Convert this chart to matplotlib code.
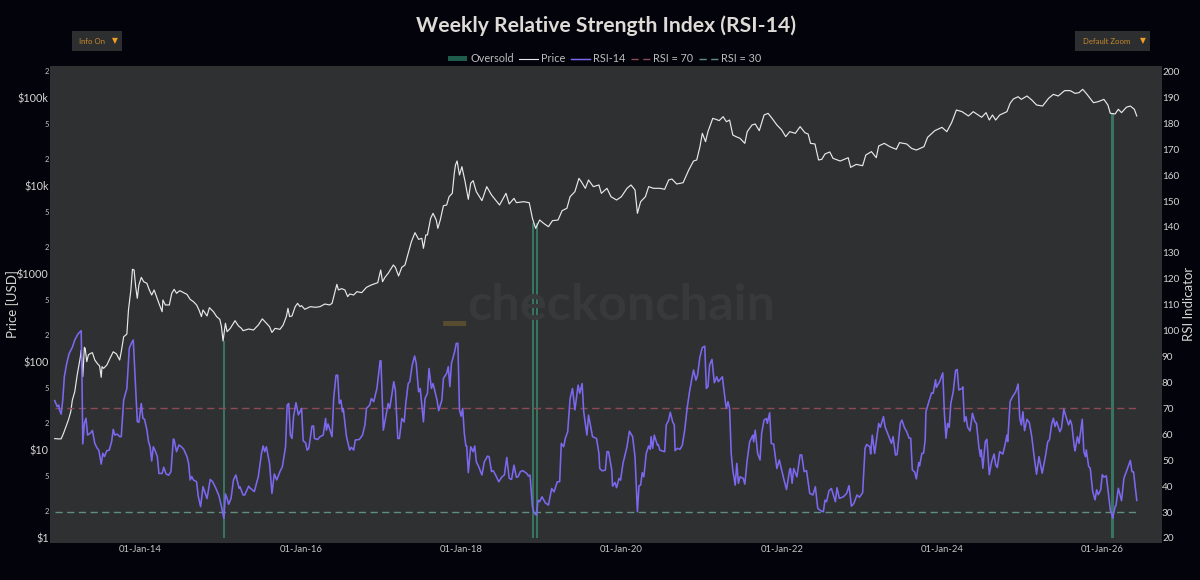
import matplotlib
matplotlib.use("Agg")
import matplotlib.pyplot as plt
from matplotlib.lines import Line2D
from matplotlib.patches import FancyBboxPatch, Patch

plt.rcParams['font.family'] = ['Lato', 'DejaVu Sans']

# weekly RSI-14
rsi_years = [
    2012.93, 2012.96, 2012.98, 2012.99, 2013.01, 2013.03, 2013.05, 2013.08, 2013.11, 2013.15, 2013.18, 2013.22, 2013.26, 2013.27,
    2013.28, 2013.30, 2013.32, 2013.34, 2013.38, 2013.40, 2013.43, 2013.46, 2013.48, 2013.51, 2013.53, 2013.55, 2013.58, 2013.61,
    2013.64, 2013.66, 2013.68, 2013.71, 2013.74, 2013.76, 2013.79, 2013.83, 2013.86, 2013.89, 2013.91, 2013.93, 2013.96, 2013.98,
    2014.01, 2014.03, 2014.05, 2014.08, 2014.10, 2014.12, 2014.14, 2014.16, 2014.18, 2014.21, 2014.23, 2014.27, 2014.29, 2014.32,
    2014.35, 2014.38, 2014.41, 2014.42, 2014.45, 2014.48, 2014.51, 2014.54, 2014.58, 2014.60, 2014.62, 2014.64, 2014.66, 2014.70,
    2014.72, 2014.75, 2014.78, 2014.80, 2014.83, 2014.87, 2014.90, 2014.94, 2014.98, 2015.01, 2015.04, 2015.06, 2015.08, 2015.10,
    2015.13, 2015.16, 2015.19, 2015.23, 2015.24, 2015.28, 2015.30, 2015.35, 2015.37, 2015.42, 2015.47, 2015.51, 2015.53, 2015.55,
    2015.57, 2015.61, 2015.64, 2015.67, 2015.70, 2015.74, 2015.77, 2015.81, 2015.83, 2015.85, 2015.87, 2015.89, 2015.91, 2015.94,
    2015.97, 2015.99, 2016.01, 2016.03, 2016.06, 2016.08, 2016.10, 2016.14, 2016.16, 2016.17, 2016.21, 2016.24, 2016.28, 2016.31,
    2016.32, 2016.34, 2016.39, 2016.41, 2016.44, 2016.46, 2016.48, 2016.50, 2016.52, 2016.53, 2016.57, 2016.61, 2016.63, 2016.66,
    2016.68, 2016.73, 2016.77, 2016.80, 2016.82, 2016.86, 2016.88, 2016.91, 2016.95, 2016.99, 2017.00, 2017.03, 2017.06, 2017.09,
    2017.11, 2017.16, 2017.18, 2017.21, 2017.23, 2017.26, 2017.29, 2017.31, 2017.34, 2017.36, 2017.39, 2017.42, 2017.44, 2017.47,
    2017.49, 2017.53, 2017.55, 2017.58, 2017.60, 2017.63, 2017.65, 2017.70, 2017.72, 2017.76, 2017.78, 2017.82, 2017.84, 2017.86,
    2017.88, 2017.92, 2017.94, 2017.96, 2017.98, 2018.00, 2018.02, 2018.04, 2018.06, 2018.07, 2018.09, 2018.12, 2018.15, 2018.17,
    2018.19, 2018.22, 2018.26, 2018.29, 2018.33, 2018.35, 2018.38, 2018.40, 2018.43, 2018.47, 2018.51, 2018.54, 2018.57, 2018.60,
    2018.63, 2018.66, 2018.69, 2018.71, 2018.74, 2018.77, 2018.82, 2018.84, 2018.86, 2018.89, 2018.91, 2018.94, 2018.96, 2018.98,
    2019.01, 2019.05, 2019.09, 2019.13, 2019.16, 2019.20, 2019.23, 2019.25, 2019.28, 2019.30, 2019.33, 2019.36, 2019.39, 2019.42,
    2019.46, 2019.48, 2019.51, 2019.53, 2019.57, 2019.59, 2019.64, 2019.69, 2019.72, 2019.73, 2019.76, 2019.80, 2019.82, 2019.84,
    2019.88, 2019.89, 2019.92, 2019.94, 2019.97, 2019.99, 2020.02, 2020.07, 2020.10, 2020.14, 2020.17, 2020.20, 2020.22, 2020.24,
    2020.26, 2020.28, 2020.31, 2020.34, 2020.36, 2020.37, 2020.39, 2020.41, 2020.45, 2020.46, 2020.48, 2020.54, 2020.56, 2020.59,
    2020.61, 2020.64, 2020.66, 2020.67, 2020.70, 2020.73, 2020.76, 2020.79, 2020.82, 2020.85, 2020.88, 2020.90, 2020.93, 2020.95,
    2020.98, 2021.01, 2021.04, 2021.06, 2021.08, 2021.10, 2021.13, 2021.16, 2021.19, 2021.21, 2021.26, 2021.30, 2021.31, 2021.33,
    2021.35, 2021.37, 2021.39, 2021.42, 2021.44, 2021.46, 2021.48, 2021.52, 2021.54, 2021.57, 2021.60, 2021.64, 2021.65, 2021.67,
    2021.70, 2021.73, 2021.75, 2021.78, 2021.81, 2021.82, 2021.85, 2021.87, 2021.90, 2021.94, 2021.97, 2022.00, 2022.03, 2022.06,
    2022.10, 2022.11, 2022.13, 2022.15, 2022.19, 2022.23, 2022.25, 2022.28, 2022.31, 2022.35, 2022.39, 2022.42, 2022.45, 2022.49,
    2022.52, 2022.54, 2022.56, 2022.59, 2022.62, 2022.67, 2022.69, 2022.72, 2022.77, 2022.81, 2022.84, 2022.87, 2022.90, 2022.94,
    2022.97, 2023.01, 2023.04, 2023.06, 2023.10, 2023.11, 2023.13, 2023.16, 2023.21, 2023.23, 2023.27, 2023.29, 2023.33, 2023.37,
    2023.39, 2023.42, 2023.44, 2023.48, 2023.50, 2023.53, 2023.56, 2023.59, 2023.61, 2023.63, 2023.66, 2023.68, 2023.71, 2023.72,
    2023.75, 2023.77, 2023.79, 2023.80, 2023.83, 2023.87, 2023.89, 2023.92, 2023.93, 2023.97, 2024.01, 2024.03, 2024.05, 2024.07,
    2024.09, 2024.11, 2024.14, 2024.17, 2024.19, 2024.21, 2024.25, 2024.26, 2024.28, 2024.30, 2024.32, 2024.35, 2024.38, 2024.41,
    2024.43, 2024.46, 2024.48, 2024.49, 2024.51, 2024.54, 2024.56, 2024.59, 2024.62, 2024.65, 2024.67, 2024.69, 2024.72, 2024.76,
    2024.79, 2024.81, 2024.82, 2024.85, 2024.88, 2024.92, 2024.95, 2024.97, 2024.99, 2025.01, 2025.03, 2025.06, 2025.09, 2025.12,
    2025.15, 2025.18, 2025.21, 2025.25, 2025.29, 2025.32, 2025.34, 2025.37, 2025.39, 2025.41, 2025.43, 2025.47, 2025.49, 2025.52,
    2025.55, 2025.58, 2025.60, 2025.62, 2025.65, 2025.66, 2025.69, 2025.71, 2025.75, 2025.77, 2025.79, 2025.80, 2025.83, 2025.85,
    2025.88, 2025.91, 2025.93, 2025.95, 2025.98, 2026.00, 2026.02, 2026.05, 2026.08, 2026.10, 2026.12, 2026.13, 2026.16, 2026.17,
    2026.20, 2026.21, 2026.24, 2026.27, 2026.30, 2026.35, 2026.37, 2026.39, 2026.41, 2026.43,
]
rsi_values = [
    73.0, 70.7, 71.3, 69.4, 67.8, 73.2, 82.2, 87.4, 91.2, 93.6, 96.4, 98.7, 100.0, 82.2,
    56.3, 64.3, 66.2, 59.7, 60.6, 61.5, 56.5, 54.6, 53.9, 48.5, 52.7, 51.4, 53.7, 53.9,
    57.2, 61.9, 59.7, 60.1, 59.1, 59.1, 73.2, 77.7, 93.2, 95.4, 96.4, 83.5, 64.9, 64.6,
    71.9, 66.2, 65.8, 61.7, 57.2, 55.2, 49.7, 55.2, 53.9, 51.4, 44.9, 44.9, 47.3, 44.7,
    44.2, 45.6, 58.2, 57.8, 53.3, 55.9, 55.2, 54.2, 51.4, 48.8, 42.4, 43.7, 42.4, 41.7,
    36.2, 32.1, 39.8, 37.9, 35.2, 42.6, 41.7, 39.2, 36.2, 32.1, 27.6, 37.0, 35.3, 33.0,
    35.3, 42.4, 44.3, 39.2, 39.8, 36.6, 36.6, 40.0, 39.2, 37.9, 43.7, 52.7, 55.5, 53.3,
    55.2, 48.8, 37.2, 44.7, 42.4, 45.6, 47.5, 55.2, 71.3, 71.9, 59.7, 58.4, 66.8, 72.2,
    67.5, 68.7, 70.0, 57.5, 56.7, 53.9, 54.6, 63.2, 63.2, 58.4, 58.0, 59.1, 59.7, 66.1,
    61.6, 64.0, 59.1, 73.8, 82.8, 82.8, 71.9, 73.2, 68.7, 70.0, 59.1, 53.9, 55.0, 53.9,
    57.8, 58.0, 59.7, 63.6, 70.0, 71.3, 73.8, 72.6, 77.7, 88.4, 88.4, 61.6, 66.8, 71.9,
    70.0, 80.3, 77.1, 58.4, 58.4, 66.1, 64.8, 71.9, 79.6, 80.3, 86.7, 90.2, 87.4, 76.4,
    77.7, 64.8, 73.8, 75.8, 85.4, 77.7, 79.6, 73.2, 69.1, 73.2, 81.6, 83.5, 86.1, 78.4,
    87.4, 91.9, 95.1, 95.1, 69.4, 67.0, 70.0, 60.4, 55.5, 55.5, 45.2, 55.2, 53.3, 55.5,
    49.4, 47.5, 44.3, 49.4, 51.6, 51.3, 45.6, 46.0, 44.3, 41.7, 43.6, 44.3, 51.1, 43.0,
    42.6, 48.1, 43.4, 43.6, 45.6, 46.0, 44.9, 43.9, 44.3, 32.1, 29.7, 28.8, 34.6, 34.0,
    35.9, 33.6, 32.7, 39.1, 37.8, 41.7, 41.7, 56.5, 55.2, 58.4, 61.0, 73.8, 77.7, 69.4,
    79.0, 75.8, 79.6, 68.7, 59.7, 67.4, 59.1, 58.4, 52.6, 46.8, 45.9, 46.2, 53.3, 53.3,
    46.2, 40.0, 41.4, 39.4, 43.0, 42.3, 48.8, 55.2, 61.2, 59.1, 51.3, 30.1, 40.2, 40.4,
    45.2, 43.6, 52.6, 55.5, 54.2, 59.1, 54.6, 59.7, 55.8, 56.1, 53.9, 53.3, 63.6, 65.5,
    68.5, 64.8, 63.6, 53.7, 54.6, 54.2, 55.8, 61.6, 70.0, 76.4, 81.6, 84.8, 80.9, 82.8,
    89.9, 93.5, 94.0, 77.7, 78.4, 86.7, 88.9, 79.9, 82.2, 80.3, 82.2, 71.9, 70.0, 72.6,
    70.0, 52.6, 46.2, 40.4, 48.8, 41.1, 43.6, 43.0, 40.8, 50.1, 57.1, 59.7, 57.1, 61.6,
    52.6, 50.1, 60.4, 65.5, 66.1, 64.2, 68.3, 56.5, 56.2, 46.8, 50.1, 46.2, 42.3, 38.7,
    46.5, 46.8, 41.1, 46.8, 43.6, 52.1, 52.0, 45.6, 46.0, 37.2, 36.6, 39.8, 31.4, 30.5,
    30.1, 34.6, 34.0, 38.2, 39.1, 34.0, 39.4, 35.3, 35.9, 37.2, 40.2, 32.3, 33.3, 36.6,
    35.7, 37.5, 54.6, 56.1, 55.2, 52.4, 59.7, 52.6, 64.2, 62.7, 66.8, 62.9, 59.7, 56.5,
    59.1, 52.0, 52.2, 64.2, 65.5, 62.7, 61.0, 58.5, 58.5, 46.3, 45.4, 42.8, 49.1, 47.8,
    52.7, 52.7, 57.8, 68.7, 71.9, 76.0, 75.8, 81.1, 78.1, 80.3, 83.7, 68.1, 58.5, 64.2,
    62.7, 71.9, 76.4, 84.7, 85.0, 77.1, 77.7, 78.3, 64.9, 66.8, 62.7, 61.3, 68.1, 64.9,
    64.2, 55.2, 51.4, 54.0, 46.9, 57.2, 58.1, 44.4, 49.5, 52.4, 48.2, 47.2, 53.3, 52.4,
    56.5, 59.7, 57.2, 72.6, 74.5, 76.4, 79.4, 66.2, 63.6, 68.7, 61.4, 65.8, 64.5, 59.1,
    51.4, 44.6, 51.4, 45.0, 51.4, 57.2, 57.8, 64.2, 66.2, 63.0, 64.9, 61.0, 62.3, 69.7,
    66.5, 63.6, 65.5, 63.6, 55.3, 53.6, 59.1, 56.5, 65.8, 53.3, 51.4, 54.0, 47.6, 46.9,
    38.0, 34.7, 38.6, 36.7, 38.6, 44.4, 43.5, 44.0, 36.0, 30.9, 29.0, 27.7, 32.2, 32.4,
    39.2, 38.0, 34.4, 43.1, 45.6, 49.9, 45.6, 45.5, 39.9, 34.5,
]

# price in USD
price_years = [
    2012.93, 2012.97, 2013.01, 2013.04, 2013.07, 2013.10, 2013.13, 2013.15, 2013.18, 2013.21, 2013.25, 2013.26, 2013.28, 2013.30,
    2013.31, 2013.33, 2013.35, 2013.38, 2013.40, 2013.43, 2013.46, 2013.49, 2013.51, 2013.52, 2013.54, 2013.58, 2013.62, 2013.66,
    2013.70, 2013.74, 2013.76, 2013.79, 2013.83, 2013.85, 2013.88, 2013.90, 2013.92, 2013.94, 2013.96, 2013.98, 2014.01, 2014.04,
    2014.08, 2014.11, 2014.14, 2014.17, 2014.20, 2014.23, 2014.27, 2014.28, 2014.31, 2014.36, 2014.39, 2014.42, 2014.45, 2014.49,
    2014.53, 2014.58, 2014.62, 2014.66, 2014.70, 2014.73, 2014.76, 2014.78, 2014.83, 2014.86, 2014.91, 2014.95, 2014.99, 2015.01,
    2015.03, 2015.06, 2015.08, 2015.12, 2015.18, 2015.22, 2015.26, 2015.28, 2015.35, 2015.41, 2015.47, 2015.52, 2015.57, 2015.61,
    2015.64, 2015.68, 2015.74, 2015.78, 2015.82, 2015.84, 2015.86, 2015.89, 2015.93, 2015.96, 2015.99,
    2016.01, 2016.05, 2016.12, 2016.18, 2016.24, 2016.30, 2016.36, 2016.39, 2016.42, 2016.45, 2016.47, 2016.51, 2016.55, 2016.585,
    2016.61, 2016.66, 2016.70, 2016.76, 2016.82, 2016.88, 2016.96, 2016.997, 2017.02, 2017.05, 2017.09, 2017.155, 2017.18, 2017.22,
    2017.26, 2017.30, 2017.34, 2017.38, 2017.425, 2017.47, 2017.51, 2017.53, 2017.56, 2017.58, 2017.62, 2017.65, 2017.69, 2017.71,
    2017.74, 2017.78, 2017.82, 2017.85, 2017.89, 2017.915, 2017.93, 2017.95, 2017.98, 2018.01, 2018.05, 2018.09, 2018.12, 2018.15,
    2018.19, 2018.26, 2018.32, 2018.38, 2018.48, 2018.56, 2018.60, 2018.66, 2018.69, 2018.78, 2018.85, 2018.89, 2018.93, 2018.98,
    2019.03, 2019.09, 2019.14, 2019.21, 2019.26, 2019.32, 2019.36, 2019.42, 2019.47, 2019.50, 2019.55, 2019.59, 2019.65, 2019.72,
    2019.75, 2019.82, 2019.87, 2019.94, 2020.00, 2020.07, 2020.12, 2020.17, 2020.20, 2020.24, 2020.30, 2020.34, 2020.40, 2020.48,
    2020.54, 2020.59, 2020.63, 2020.69, 2020.77, 2020.84, 2020.90, 2020.94, 2020.98, 2021.01, 2021.05, 2021.08, 2021.14, 2021.18,
    2021.22, 2021.27, 2021.31, 2021.35, 2021.39, 2021.43, 2021.48, 2021.54, 2021.57, 2021.63, 2021.67, 2021.72, 2021.78, 2021.83,
    2021.88, 2021.94, 2022.00, 2022.05, 2022.10, 2022.17, 2022.23, 2022.29, 2022.33, 2022.36, 2022.415, 2022.46, 2022.50, 2022.54,
    2022.60, 2022.64, 2022.73, 2022.83, 2022.86, 2022.93, 2023.01, 2023.05, 2023.12, 2023.18, 2023.21, 2023.28, 2023.35, 2023.43,
    2023.47, 2023.56, 2023.62, 2023.68, 2023.775, 2023.82, 2023.91, 2024.00, 2024.06, 2024.12, 2024.18, 2024.25, 2024.33, 2024.39,
    2024.495, 2024.55, 2024.59, 2024.63, 2024.67, 2024.72, 2024.81, 2024.85, 2024.89, 2024.95, 2024.99, 2025.06, 2025.12, 2025.18,
    2025.255, 2025.33, 2025.39, 2025.45, 2025.53, 2025.60, 2025.66, 2025.71, 2025.755, 2025.80, 2025.89, 2025.95, 2026.02, 2026.07,
    2026.10, 2026.16, 2026.20, 2026.24, 2026.30, 2026.35, 2026.40, 2026.43,
]
price_values = [
    13.3, 13.2, 13.2, 15.3, 18.2, 21.6, 26.9, 36.5, 45.4, 70.2, 113, 135, 67.3, 145,
    141, 99.5, 119, 124, 126, 104, 95.3, 88.9, 66.1, 87.4, 83.6, 91.2, 109, 129,
    122, 104, 129, 191, 205, 385, 650, 1117, 1096, 708, 522, 740, 904, 807,
    773, 650, 570, 650, 546, 458, 368, 500, 439, 439, 596, 661, 596, 638,
    611, 579, 508, 479, 439, 385, 324, 385, 329, 409, 368, 324, 301, 249,
    171, 272, 218, 238, 291, 255, 238, 224, 234, 228, 260, 305, 272, 249,
    214, 238, 232, 260, 324, 402, 324, 329, 420, 458, 420,
    431, 392, 420, 413, 420, 450, 439, 458, 585, 753, 650, 673, 650, 546,
    585, 570, 622, 606, 697, 741, 787, 1096, 807, 904, 1005, 1250, 1175, 938,
    1175, 1250, 1695, 2301, 2911, 2443, 2512, 1932, 2742, 2742, 4236, 4831, 4055, 3258,
    4055, 5902, 6003, 7464, 8147, 13740, 17100, 19010, 13150, 16370, 11060, 6966, 10590, 11350,
    8511, 6730, 9705, 7798, 6003, 8147, 6166, 7145, 6383, 6546, 6383, 4236, 3258, 4055,
    3715, 3404, 3984, 4055, 5176, 5508, 7464, 8511, 12050, 11060, 9290, 11560, 9705, 10140,
    8147, 9290, 7464, 6839, 7464, 9290, 10140, 8892, 4831, 6546, 7464, 9705, 9290, 9290,
    9057, 11560, 11860, 10400, 10760, 14990, 18970, 19500, 27610, 39170, 31480, 40930, 57940, 56490,
    54580, 60530, 53090, 55460, 37500, 35890, 34360, 30130, 40930, 48750, 50000, 41980, 63240, 66070,
    57940, 48750, 42760, 35890, 40930, 39170, 46670, 39810, 38460, 30130, 29650, 19500, 19820, 22800,
    24040, 20370, 18970, 20700, 16070, 17380, 16790, 22230, 24270, 20700, 28120, 30130, 27610, 25760,
    30690, 29650, 26420, 25290, 27610, 35240, 41980, 45810, 40930, 51760, 72110, 69020, 61660, 69020,
    59570, 67300, 55460, 63240, 55460, 63240, 69020, 85900, 96160, 102100, 95280, 104000, 93760, 82220,
    79980, 97950, 108600, 104000, 119700, 119700, 111400, 113500, 123900, 111400, 87300, 89740, 95280, 82220,
    66070, 65010, 73450, 67300, 77450, 79980, 73450, 61660,
]

# oversold weeks, bar runs from $1 up to the price
oversold_years = [2015.04, 2018.90, 2018.95, 2026.13]
oversold_price = [171, 3750, 3750, 66700]
oversold_widths = [0.02, 0.026, 0.026, 0.032]

rsi_upper = 70
rsi_lower = 30

year_ticks = [2014, 2016, 2018, 2020, 2022, 2024, 2026]
year_labels = ['01-Jan-14', '01-Jan-16', '01-Jan-18', '01-Jan-20', '01-Jan-22', '01-Jan-24', '01-Jan-26']
price_ticks = [1, 10, 100, 1000, 10000, 100000]
price_labels = ['$1', '$10', '$100', '$1000', '$10k', '$100k']
price_minor = [2, 5, 20, 50, 200, 500, 2000, 5000, 20000, 50000, 200000]
price_minor_labels = ['2', '5', '2', '5', '2', '5', '2', '5', '2', '5', '2']
rsi_ticks = list(range(20, 201, 10))

BG = '#03030b'
PANEL = '#2e3032'
TEXT = '#d6d4d2'
ORANGE = '#c98a2c'
GREEN_BAR = '#37755e'
RED_DASH = '#8c4a56'
GREEN_DASH = '#5f8f7e'
PURPLE = '#7b68ee'

W, H = 1200, 580
fig = plt.figure(figsize=(W / 100, H / 100), dpi=100, facecolor=BG)
ax = fig.add_axes([50 / W, 1 - 543 / H, 1112 / W, 477 / H], facecolor=PANEL)
ax2 = ax.twinx()

ax.bar(oversold_years, [p - 1 for p in oversold_price], width=oversold_widths, bottom=1, color=GREEN_BAR, linewidth=0)
ax.plot(price_years, price_values, color='#e8e8e8', lw=0.85)

ax2.plot([rsi_years[0], rsi_years[-1]], [rsi_upper, rsi_upper], color=RED_DASH, lw=1, ls=(0, (5.2, 3.2)))
ax2.plot([rsi_years[0], rsi_years[-1]], [rsi_lower, rsi_lower], color=GREEN_DASH, lw=1, ls=(0, (5.2, 3.2)))
ax2.plot(rsi_years, rsi_values, color=PURPLE, lw=1.15)

ax.set_xlim(2012.871, 2026.745)
ax.set_yscale('log')
ax.set_ylim(10 ** -0.0625, 10 ** 5.358)
ax2.set_ylim(18.07, 202.1)

ax.set_xticks(year_ticks)
ax.set_xticklabels(year_labels)
ax.set_yticks(price_ticks)
ax.set_yticklabels(price_labels)
ax.set_yticks(price_minor, minor=True)
ax.set_yticklabels(price_minor_labels, minor=True)
ax2.set_yticks(rsi_ticks)

ax.tick_params(axis='x', length=0, pad=1.5, labelsize=6.8, labelcolor='#c4c4c4')
ax.tick_params(axis='y', which='major', length=0, pad=1, labelsize=7.8, labelcolor=TEXT)
ax.tick_params(axis='y', which='minor', length=0, pad=1, labelsize=5.5, labelcolor='#c4c4c4')
ax2.tick_params(axis='y', length=0, pad=0, labelsize=7.2, labelcolor=TEXT)

for a in (ax, ax2):
    for s in a.spines.values():
        s.set_visible(False)

fig.text(13 / W, 1 - 304 / H, 'Price [USD]', rotation=90, color=TEXT, fontsize=9.5, ha='center', va='center')
fig.text(1189 / W, 1 - 304 / H, 'RSI Indicator', rotation=90, color=TEXT, fontsize=9.5, ha='center', va='center')
fig.text(606 / W, 1 - 26 / H, 'Weekly Relative Strength Index (RSI-14)', color='#dedad6', fontsize=15.2, fontweight='bold', ha='center', va='center')

# faint watermark
fig.text(467 / W, 1 - 320 / H, 'checkonchain', color='#37393b', fontsize=36.3, fontweight='bold', ha='left', va='baseline')
fig.text(441 / W, 1 - 318 / H, '_', color='#574b30', fontsize=42, fontweight='bold', ha='left', va='baseline')

# dropdown buttons
def add_button(x0, x1, label, label_x, arrow_x):
    box = FancyBboxPatch((x0 / W, 1 - 51 / H), (x1 - x0) / W, 20 / H, transform=fig.transFigure,
                         boxstyle='square,pad=0', facecolor='#2c2e30', edgecolor='none')
    fig.add_artist(box)
    fig.text(label_x / W, 1 - 41 / H, label, color=ORANGE, fontsize=5.6, ha='left', va='center')
    fig.text(arrow_x / W, 1 - 41 / H, '▼', color='#f0a020', fontsize=5.5, ha='center', va='center')

add_button(71.5, 121.5, 'Info On', 79, 115)
add_button(1075, 1149.5, 'Default Zoom', 1083, 1143)

handles = [
    Patch(facecolor='#1f5c4b', edgecolor='none'),
    Line2D([], [], color='#e8e8e8', lw=0.8),
    Line2D([], [], color=PURPLE, lw=1.05),
    Line2D([], [], color=RED_DASH, lw=1, ls=(0, (5.2, 3.2))),
    Line2D([], [], color=GREEN_DASH, lw=1, ls=(0, (5.2, 3.2))),
]
labels = ['Oversold', 'Price', 'RSI-14', 'RSI = 70', 'RSI = 30']
leg = fig.legend(handles, labels, ncols=5, loc='center', bbox_to_anchor=(604.5 / W, 1 - 59 / H), frameon=False,
                 fontsize=7.8, labelcolor='#bdbdbd', handlelength=1.75, handleheight=0.35, handletextpad=0.3,
                 columnspacing=0.5, borderpad=0, borderaxespad=0)

fig.savefig('out.png', dpi=100, facecolor=BG)
